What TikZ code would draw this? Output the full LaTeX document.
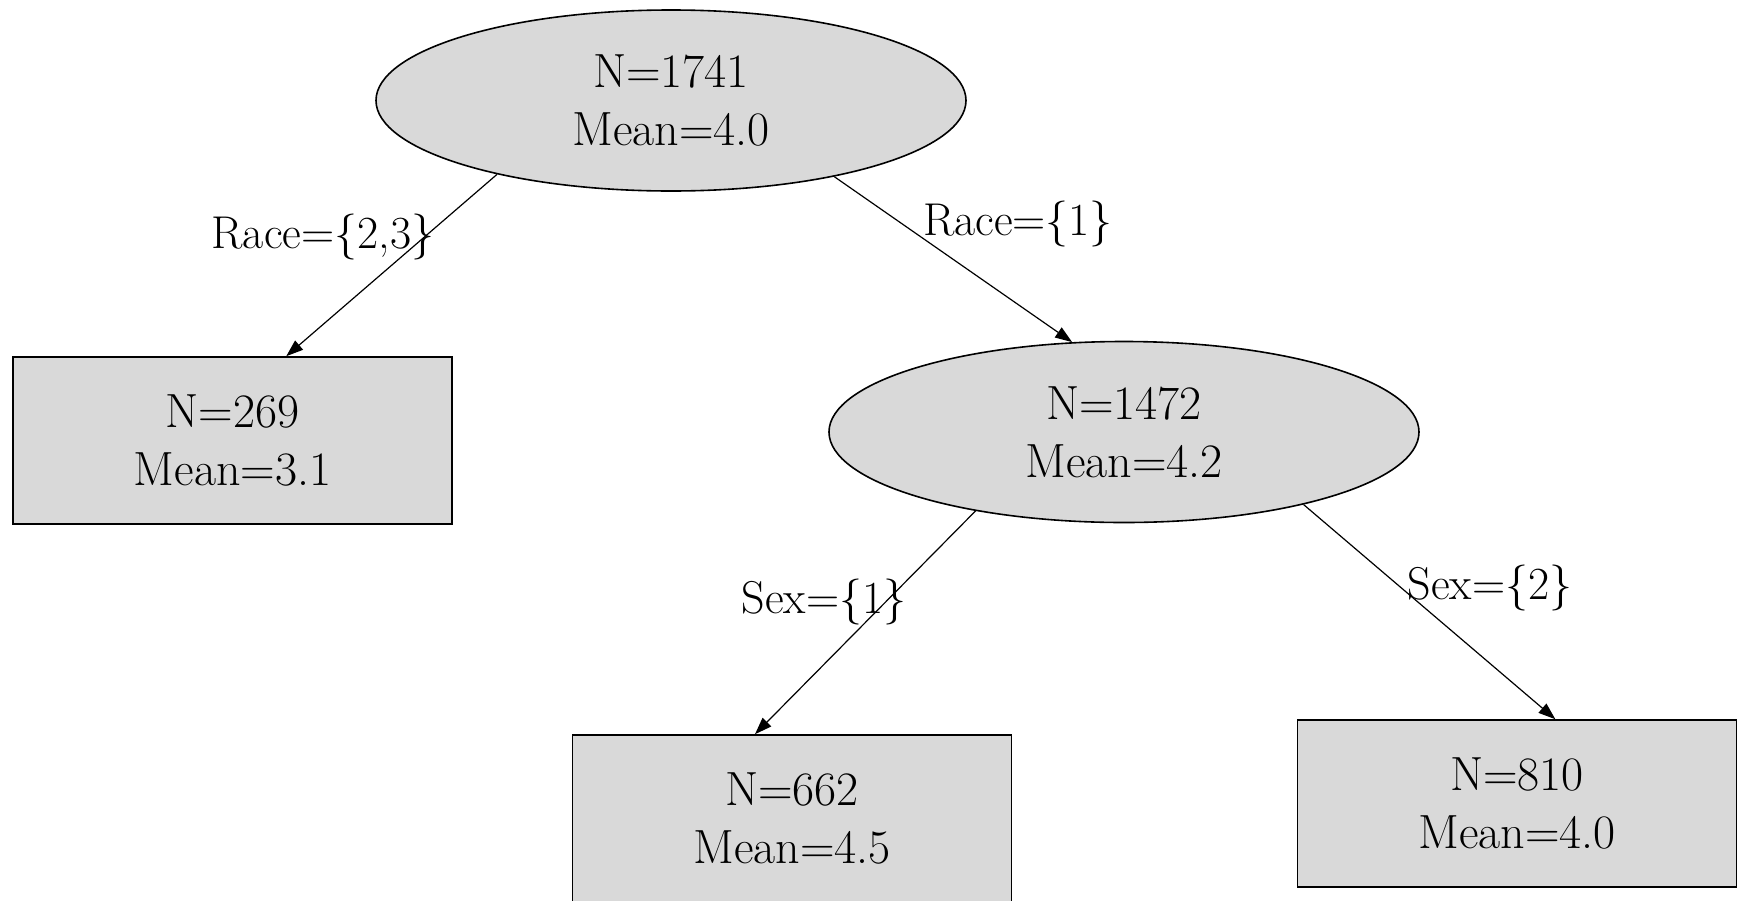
\documentclass[tikz,border=0pt]{standalone}
\usetikzlibrary{shapes.geometric,arrows.meta,calc}
\definecolor{nodefill}{RGB}{217,217,217}
\begin{document}
\begin{tikzpicture}[x=1pt,y=-1pt,
  every node/.style={font=\fontsize{48}{57.6}\selectfont, align=center},
  split/.style={ellipse, draw, line width=1.6pt, fill=nodefill,
    minimum width=590pt, minimum height=181pt, inner sep=0pt},
  leaf/.style={rectangle, draw, line width=1.6pt, fill=nodefill,
    minimum width=439pt, minimum height=167pt, inner sep=0pt},
  branch/.style={line width=1.2pt, -{Triangle[length=17pt,width=12pt]}},
  cond/.style={inner sep=0pt, font=\fontsize{46}{55}\selectfont}]
\useasboundingbox (0,0) rectangle (1738,900);
\clip (0,0) rectangle (1738,900);

% tree nodes
\node[split] (root) at (671,100.5) {N=1741\\Mean=4.0};
\node[leaf]  (l1)   at (232.5,440.5) {N=269\\Mean=3.1};
\node[split] (race) at (1124,432) {N=1472\\Mean=4.2};
\node[leaf]  (l2)   at (792,818.5) {N=662\\Mean=4.5};
\node[leaf]  (l3)   at (1517,803.5) {N=810\\Mean=4.0};

% branches
\draw[branch] (root.203) -- ($(l1.north west)!0.622!(l1.north east)$);
\draw[branch] (root.335) -- (race.120);
\draw[branch] (race.208) -- ($(l2.north west)!0.416!(l2.north east)$);
\draw[branch] (race.338) -- ($(l3.north west)!0.587!(l3.north east)$);

% split conditions
\node[cond] (c1) at (323,237) {Race=\textbraceleft2,3\textbraceright};
\node[cond] (c2) at (1018,224) {Race=\textbraceleft1\textbraceright};
\node[cond] (c3) at (824,602) {Sex=\textbraceleft1\textbraceright};
\node[cond] (c4) at (1490,587.5) {Sex=\textbraceleft2\textbraceright};
\end{tikzpicture}
\end{document}
